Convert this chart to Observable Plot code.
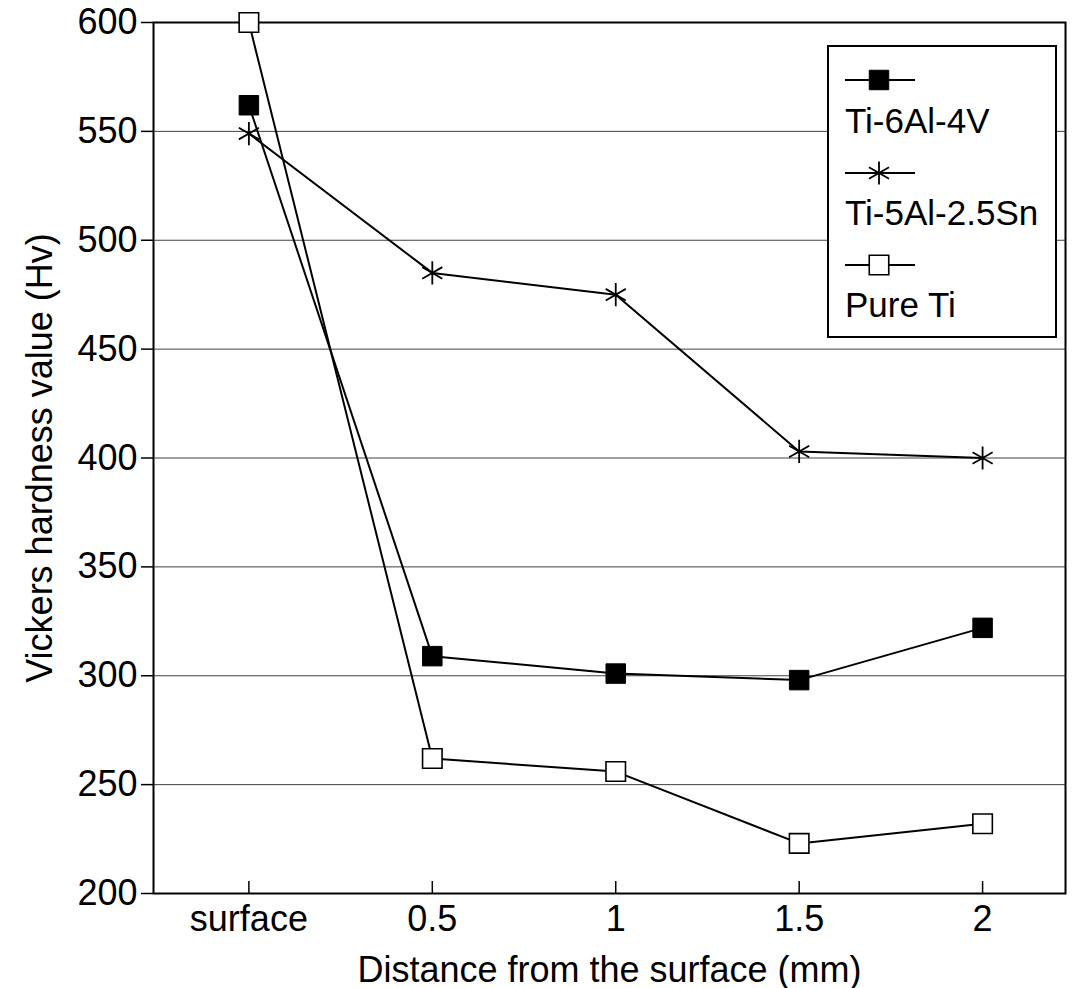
<!DOCTYPE html>
<html>
<head>
<meta charset="utf-8">
<script src="https://cdn.jsdelivr.net/npm/d3@7"></script>
<script src="https://cdn.jsdelivr.net/npm/@observablehq/plot@0.6"></script>
<style>
  html, body { margin: 0; padding: 0; background: white; }
  #wrap { position: relative; width: 1083px; height: 988px; font-family: "Liberation Sans", Arial, Helvetica, sans-serif; }
  #legend { position: absolute; left: 827px; top: 45px; }
</style>
</head>
<body>
<div id="wrap"></div>
<script>
// ---- data ----
const categories = ["surface", "0.5", "1", "1.5", "2"];
const distances = [0, 0.5, 1, 1.5, 2];
const ti64 = [562, 309, 301, 298, 322];      // Ti-6Al-4V
const ti525 = [549, 485, 475, 403, 400];     // Ti-5Al-2.5Sn
const pureTi = [600, 262, 256, 223, 232];    // Pure Ti
const seriesNames = ["Ti-6Al-4V", "Ti-5Al-2.5Sn", "Pure Ti"];
const yTicks = [200, 250, 300, 350, 400, 450, 500, 550, 600];

const seriesValues = [ti64, ti525, pureTi];
const rows = seriesNames.map((name, s) =>
  distances.map((d, i) => ({series: name, d, v: seriesValues[s][i]}))
);
const allRows = rows.flat();
const catOf = new Map(distances.map((d, i) => [d, categories[i]]));

const FONT = '"Liberation Sans", Arial, Helvetica, sans-serif';
const R = 11;

const chart = Plot.plot({
  width: 1083,
  height: 988,
  marginLeft: 153,
  marginRight: 18,
  marginTop: 22,
  marginBottom: 95,
  style: {fontFamily: FONT, fontSize: "36px", color: "black", background: "white", overflow: "visible"},
  x: {type: "linear", domain: [-0.26, 2.226]},
  y: {domain: [200, 600]},
  marks: [
    Plot.gridY(yTicks, {stroke: "#111", strokeOpacity: 0.8, strokeWidth: 1}),
    Plot.frame({stroke: "black", strokeWidth: 2}),
    Plot.ruleX(distances, {y1: 200, y2: 205.5, stroke: "black", strokeWidth: 1.5}),
    Plot.axisY(yTicks, {
      tickSize: 12, tickPadding: 4, fontSize: 36, strokeWidth: 1.5,
      label: "Vickers hardness value (Hv)", labelAnchor: "center", labelArrow: "none", labelOffset: 127
    }),
    Plot.axisX(distances, {
      tickSize: 0, tickPadding: 12, fontSize: 36,
      tickFormat: d => catOf.get(d),
      label: "Distance from the surface (mm)", labelAnchor: "center", labelArrow: "none", labelOffset: 88
    }),
    Plot.line(allRows, {x: "d", y: "v", z: "series", stroke: "black", strokeWidth: 2}),
    Plot.dot(rows[0], {x: "d", y: "v", symbol: "square", r: R, fill: "black", stroke: "black", strokeWidth: 1}),
    Plot.dot(rows[1], {x: "d", y: "v", symbol: "asterisk", r: R, stroke: "black", strokeWidth: 1.8}),
    Plot.dot(rows[2], {x: "d", y: "v", symbol: "square", r: R, fill: "white", stroke: "black", strokeWidth: 1.6})
  ]
});

const wrap = document.getElementById("wrap");
wrap.appendChild(chart);

// ---- legend ----
const lw = 230, lh = 293;
const leg = d3.create("svg")
  .attr("id", "legend")
  .attr("width", lw).attr("height", lh)
  .style("font-family", FONT);
leg.append("rect").attr("x", 1).attr("y", 1).attr("width", lw - 2).attr("height", lh - 2)
  .attr("fill", "white").attr("stroke", "black").attr("stroke-width", 2);
const size = R * R * Math.PI;
const styles = [
  {sym: d3.symbolSquare, fill: "black", stroke: "black", sw: 1},
  {sym: d3.symbolAsterisk, fill: "none", stroke: "black", sw: 1.8},
  {sym: d3.symbolSquare, fill: "white", stroke: "black", sw: 1.6}
];
const swY = [35, 128, 220];
const txtY = [88, 180, 272];
seriesNames.forEach((name, i) => {
  const g = leg.append("g");
  g.append("line").attr("x1", 18).attr("x2", 88).attr("y1", swY[i]).attr("y2", swY[i])
    .attr("stroke", "black").attr("stroke-width", 2);
  g.append("path").attr("d", d3.symbol(styles[i].sym, size)())
    .attr("transform", `translate(52,${swY[i]})`)
    .attr("fill", styles[i].fill).attr("stroke", styles[i].stroke).attr("stroke-width", styles[i].sw);
  g.append("text").attr("x", 18).attr("y", txtY[i]).attr("font-size", 35).attr("fill", "black").text(name);
});
wrap.appendChild(leg.node());
</script>
</body>
</html>
